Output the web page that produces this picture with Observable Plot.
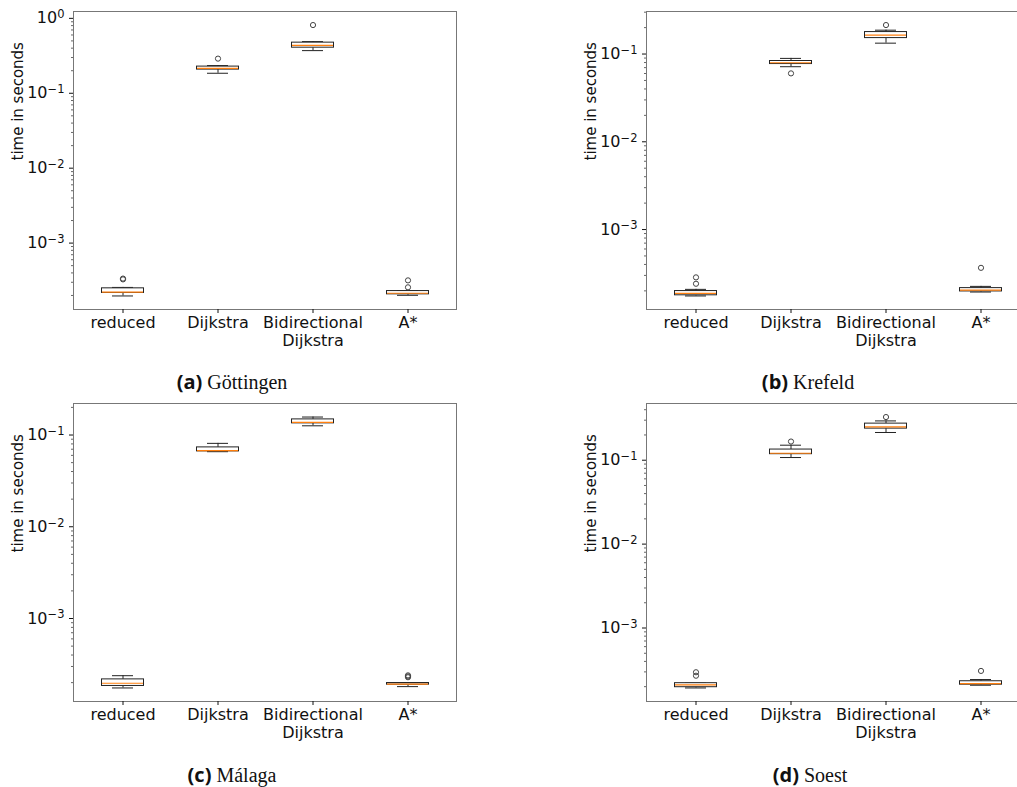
<!DOCTYPE html>
<html>
<head>
<meta charset="utf-8">
<script src="https://cdn.jsdelivr.net/npm/d3@7"></script>
<script src="https://cdn.jsdelivr.net/npm/@observablehq/plot@0.6"></script>
<style>
  html, body { margin: 0; padding: 0; background: #fff; }
  body { width: 1017px; height: 787px; overflow: hidden; position: relative; }
  .panel { position: absolute; width: 466px; height: 359px; }
  .panel svg { max-width: none !important; }
  .caption {
    position: absolute; transform: translateX(-50%); white-space: nowrap;
    font: 20px/20px "Liberation Serif", serif; color: #111;
  }
  .caption b { font-family: "Open Sans", sans-serif; font-weight: 700; font-size: 20px; }
</style>
</head>
<body>
<div id="pa" class="panel" style="left:0px;top:0px"></div>
<div id="pb" class="panel" style="left:573px;top:0px"></div>
<div id="pc" class="panel" style="left:0px;top:392px"></div>
<div id="pd" class="panel" style="left:573px;top:392px"></div>
<div class="caption" style="left:232px;top:372px"><b>(a)</b> Göttingen</div>
<div class="caption" style="left:808px;top:372px"><b>(b)</b> Krefeld</div>
<div class="caption" style="left:232px;top:765px"><b>(c)</b> Málaga</div>
<div class="caption" style="left:810px;top:765px"><b>(d)</b> Soest</div>
<script>
// Routing methods compared in every panel
const methods = ["reduced", "Dijkstra", "Bidirectional\nDijkstra", "A*"];

// Box statistics per method: [lower whisker, Q1, median, Q3, upper whisker], seconds
const goettingenStats = [
  [1.97e-4, 2.16e-4, 2.22e-4, 2.49e-4, 2.56e-4],
  [0.185, 0.207, 0.215, 0.227, 0.234],
  [0.371, 0.406, 0.437, 0.474, 0.489],
  [2.01e-4, 2.07e-4, 2.14e-4, 2.29e-4, 2.31e-4]
];
const goettingenOutliers = [[3.28e-4, 3.36e-4], [0.290], [0.814], [2.57e-4, 3.18e-4]];

const krefeldStats = [
  [1.75e-4, 1.78e-4, 1.87e-4, 1.99e-4, 2.08e-4],
  [0.0717, 0.0769, 0.0796, 0.0833, 0.0892],
  [0.133, 0.152, 0.164, 0.178, 0.187],
  [1.94e-4, 1.97e-4, 2.04e-4, 2.15e-4, 2.25e-4]
];
const krefeldOutliers = [[2.41e-4, 2.85e-4], [0.0602], [0.214], [3.66e-4]];

const malagaStats = [
  [1.75e-4, 1.84e-4, 1.97e-4, 2.17e-4, 2.38e-4],
  [0.0658, 0.0663, 0.0675, 0.0733, 0.0811],
  [0.126, 0.134, 0.137, 0.148, 0.157],
  [1.81e-4, 1.90e-4, 1.93e-4, 1.98e-4, 1.98e-4]
];
const malagaOutliers = [[], [], [], [2.29e-4, 2.34e-4, 2.40e-4]];

const soestStats = [
  [1.93e-4, 1.97e-4, 2.10e-4, 2.20e-4, 2.20e-4],
  [0.1076, 0.118, 0.121, 0.134, 0.151],
  [0.214, 0.238, 0.249, 0.273, 0.294],
  [2.08e-4, 2.11e-4, 2.17e-4, 2.32e-4, 2.43e-4]
];
const soestOutliers = [[2.70e-4, 2.97e-4], [0.167], [0.327], [3.08e-4]];

const yLabel = "time in seconds";

// tick label as "10^e"; the exponent is typeset as a raised tspan after rendering
const powerLabel = d => "10^" + Math.round(Math.log10(d));

function raiseExponents(svg) {
  svg.querySelectorAll('g[aria-label="y-axis tick label"] text').forEach(t => {
    const [base, exp] = t.textContent.split("^");
    if (exp === undefined) return;
    t.textContent = base;
    const s = document.createElementNS("http://www.w3.org/2000/svg", "tspan");
    s.setAttribute("dy", "-0.45em");
    s.setAttribute("font-size", "11.5");
    s.textContent = exp.replace("-", "\u2212");
    t.appendChild(s);
  });
  return svg;
}

function boxPanel(stats, outliers) {
  const rows = methods.map((m, i) => {
    const [lo, q1, med, q3, hi] = stats[i];
    return {method: m, lo, q1, med, q3, hi};
  });
  const points = outliers.flatMap((vals, i) => vals.map(v => ({method: methods[i], value: v})));

  // log-scale limits with a 5% margin in decades around all drawn values
  const values = rows.flatMap(r => [r.lo, r.hi]).concat(points.map(p => p.value));
  const lmin = Math.log10(d3.min(values)), lmax = Math.log10(d3.max(values));
  const pad = (lmax - lmin) * 0.05;
  const domain = [10 ** (lmin - pad), 10 ** (lmax + pad)];

  const majors = d3.range(Math.ceil(lmin - pad), Math.floor(lmax + pad) + 1).map(e => 10 ** e);
  const minors = d3.range(Math.floor(lmin - pad), Math.ceil(lmax + pad) + 1)
    .flatMap(e => d3.range(2, 10).map(k => k * 10 ** e))
    .filter(v => v >= domain[0] && v <= domain[1]);

  const ink = "#222";
  const svg = Plot.plot({
    width: 466, height: 359,
    marginLeft: 73, marginTop: 11, marginRight: 10, marginBottom: 50,
    x: {type: "band", domain: methods, padding: 0, label: null},
    y: {type: "log", domain, label: null},
    style: {fontFamily: "DejaVu Sans, sans-serif", fontSize: "16px", color: "#111", background: "transparent"},
    marks: [
      Plot.frame({stroke: "#777", strokeWidth: 1}),
      Plot.axisY({ticks: minors, tickSize: 2, tickFormat: () => "", label: null, stroke: "#666"}),
      Plot.axisY({ticks: majors, tickSize: 4, tickPadding: 5, tickFormat: powerLabel, label: null, fontSize: 16}),
      Plot.axisX({tickSize: 4, tickPadding: 2, label: null, fontSize: 16, lineHeight: 1.12}),
      Plot.ruleX(rows, {x: "method", y1: "lo", y2: "q1", stroke: ink}),
      Plot.ruleX(rows, {x: "method", y1: "q3", y2: "hi", stroke: ink}),
      Plot.tickY(rows, {x: "method", y: "lo", stroke: ink, insetLeft: 37, insetRight: 37}),
      Plot.tickY(rows, {x: "method", y: "hi", stroke: ink, insetLeft: 37, insetRight: 37}),
      Plot.barY(rows, {x: "method", y1: "q1", y2: "q3", fill: "white", stroke: ink, strokeWidth: 1,
                       insetLeft: 26.5, insetRight: 26.5}),
      Plot.tickY(rows, {x: "method", y: "med", stroke: "#ff7f0e", strokeWidth: 1.2,
                        insetLeft: 27, insetRight: 27}),
      Plot.dot(points, {x: "method", y: "value", r: 2.6, stroke: "#444", strokeWidth: 1, fill: "none"}),
      Plot.text([yLabel], {text: d => d, frameAnchor: "left", rotate: -90, dx: -55,
                           fontSize: 15, fill: "#111"})
    ]
  });
  return raiseExponents(svg);
}

document.getElementById("pa").append(boxPanel(goettingenStats, goettingenOutliers));
document.getElementById("pb").append(boxPanel(krefeldStats, krefeldOutliers));
document.getElementById("pc").append(boxPanel(malagaStats, malagaOutliers));
document.getElementById("pd").append(boxPanel(soestStats, soestOutliers));
</script>
</body>
</html>
